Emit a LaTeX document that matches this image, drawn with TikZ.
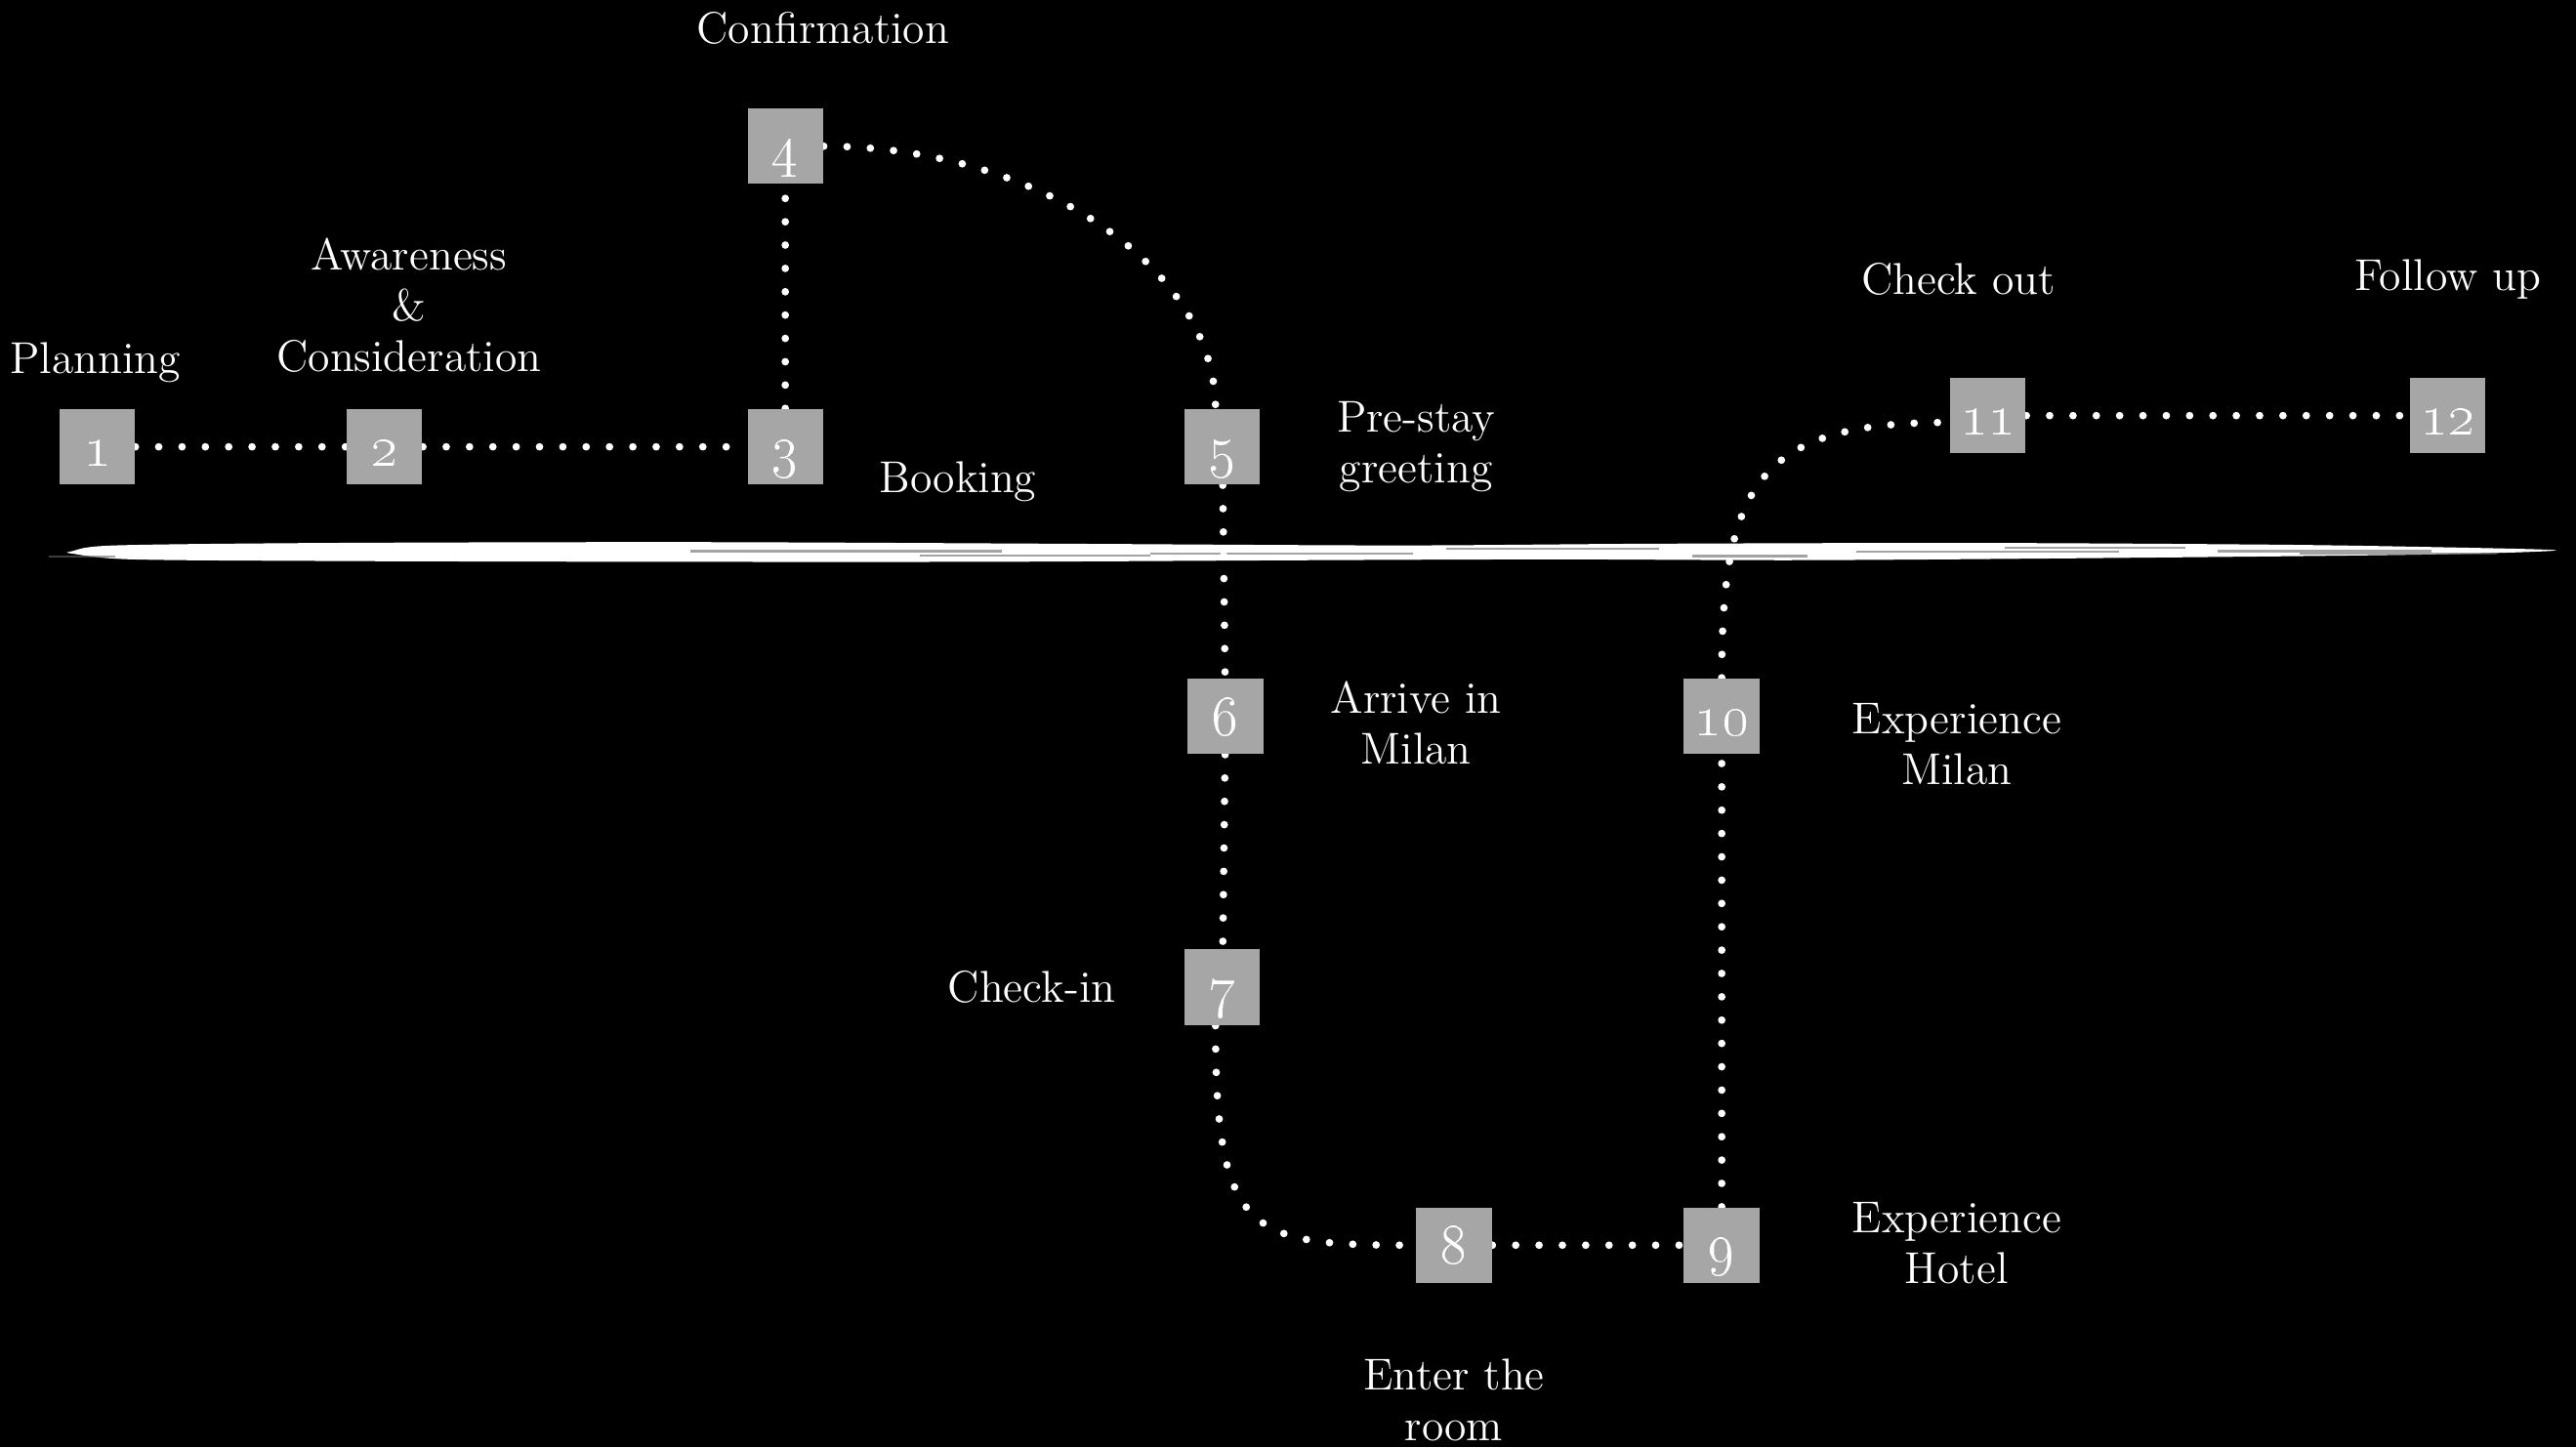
\documentclass[tikz,border=0pt]{standalone}
\usepackage{tikz}
\usetikzlibrary{backgrounds}
\definecolor{boxgray}{HTML}{A6A6A6}
\tikzset{
  stagebox/.style={fill=boxgray, text=white, minimum size=0.774cm, inner sep=0pt,
    text height=16.6pt, text depth=5.4pt, font=\fontsize{18}{18}\selectfont},
  stagelabel/.style={text=white, align=center, font=\fontsize{13}{14.8}\selectfont},
  dotline/.style={white, line width=2.2pt, line cap=round, dash pattern=on 0pt off 6.8pt}
}
\begin{document}
\begin{tikzpicture}[x={(0.016824cm,0cm)}, y={(0cm,-0.016824cm)}]
        \useasboundingbox (0,0) rectangle (1568,881);
        \foreach \i/\x/\y in {1/59/272, 2/234/272, 3/478/272, 4/478/89, 5/744/272, 6/746/436,
                7/744/601, 8/885/758, 9/1048/758, 10/1048/436, 11/1210/253, 12/1490/253}
        { \node[stagebox] (n\i) at (\x,\y) {\oldstylenums{\i}};
        }
        \node[stagelabel] (lplan) at (58,221) {Planning};
        \node[stagelabel] (laware) at (249,186) {Awareness\\\&\\Consideration};
        \node[stagelabel] (lconf) at (501,17) {Confirmation};
        \node[stagelabel] (lbook) at (583,293) {Booking};
        \node[stagelabel] (lpre) at (862,272) {Pre-stay\\greeting};
        \node[stagelabel] (larrive) at (862,440) {Arrive in\\Milan};
        \node[stagelabel] (lcheckin) at (628,601) {Check-in};
        \node[stagelabel] (lroom) at (885,852) {Enter the\\room};
        \node[stagelabel] (lhotel) at (1191,757) {Experience\\Hotel};
        \node[stagelabel] (lmilan) at (1191,453) {Experience\\Milan};
        \node[stagelabel] (lcheckout) at (1192,170) {Check out};
        \node[stagelabel] (lfollow) at (1490,170) {Follow up};
        \begin{pgfonlayer}{background}
        \fill[black] (0,0) rectangle (1568,881);
        % brush stroke line
        \fill[white!60] plot[smooth cycle] coordinates {(44,335.5) (70,332) (200,330.5) (420,330) (650,331) (850,332) (1000,331)
                (1200,330.5) (1380,331.5) (1480,333) (1556,335) (1480,337.5) (1300,339.5) (1100,341)
                (950,340.5) (800,341) (600,342) (400,342) (200,341.5) (80,340.5) (44,337)};
        \fill[white] plot[smooth cycle] coordinates {(52,335.5) (90,332.5) (200,331.5) (420,331) (650,332) (850,333) (1000,332)
                (1200,331.5) (1380,332.5) (1470,334) (1540,335.5) (1470,337) (1300,338.5) (1100,340)
                (950,339.5) (800,340) (600,341) (400,341) (200,340.5) (90,339.5) (52,337)};
        \foreach \a/\b/\h in {30/70/339, 420/610/335.5, 560/700/338, 700/860/337, 880/1010/334, 1030/1100/338.5,
                1130/1290/336, 1220/1330/333.5, 1350/1480/335.5, 1400/1520/337}
        { \draw[black!60, line width=0.6pt, opacity=0.6] (\a,\h) -- (\b,\h);
        }
        \draw[dotline] (n1) -- (n2);
        \draw[dotline] (n2) -- (n3);
        \draw[dotline] (n3) -- (n4);
        \draw[dotline] (n4.east) .. controls +(131,0) and +(0,-85) .. (n5.100);
        \draw[dotline] (n5) -- (n6);
        \draw[dotline] (n6) -- (n7);
        \draw[dotline] (n7.260) .. controls +(0,130) and +(-100,0) .. (n8.west);
        \draw[dotline] (n8) -- (n9);
        \draw[dotline] (n9) -- (n10);
        \draw[dotline] (n10.north) .. controls +(0,-120) and +(-115,0) .. (n11.190);
        \draw[dotline] (n11) -- (n12);
        \end{pgfonlayer}
\end{tikzpicture}
\end{document}
